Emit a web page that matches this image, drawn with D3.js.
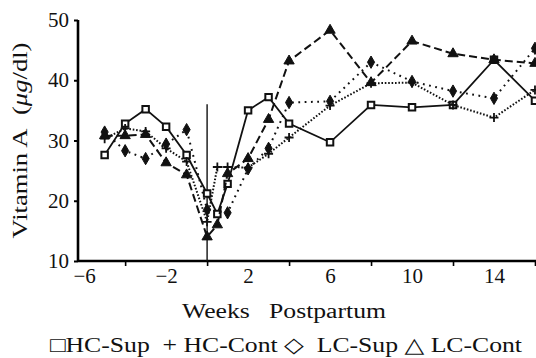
<!DOCTYPE html>
<html>
<head>
<meta charset="utf-8">
<script src="https://cdn.jsdelivr.net/npm/d3@7"></script>
<style>
  html, body { margin: 0; padding: 0; background: #fff; }
  svg { display: block; }
  text { font-family: 'Liberation Serif', 'DejaVu Serif', serif; fill: #111; }
</style>
</head>
<body>
<div id="chart"></div>
<script>
(() => {
  // weeks relative to partum, values in µg/dl
  const weeks = [-5, -4, -3, -2, -1, 0, 0.5, 1, 2, 3, 4, 6, 8, 10, 12, 14, 16];
  const hcSup = [27.6, 32.8, 35.2, 32.3, 27.6, 21.2, 17.8, 22.8, 35.0, 37.2, 32.8, 29.7, 35.9, 35.5, 35.9, 43.4, 36.6];
  const hcCont = [30.3, 32.0, 31.5, 28.7, 26.5, 16.5, 25.6, 25.6, 25.5, 27.8, 30.5, 35.8, 39.5, 39.6, 35.9, 33.8, 38.4];
  const lcSup = [31.4, 28.3, 27.0, 29.4, 31.8, 18.5, null, 18.0, 25.3, 28.7, 36.3, 36.5, 43.0, 39.8, 38.2, 37.0, 45.3];
  const lcCont = [30.8, 30.8, 31.0, 26.3, 24.3, 14.0, 16.0, 24.5, 27.0, 33.5, 43.2, 48.3, 39.6, 46.5, 44.4, 43.4, 42.8];

  const yTicks = [10, 20, 30, 40, 50];
  const xMarkTicks = [-4, 0, 4, 8, 12, 16];
  const xLabelTicks = [-6, -2, 2, 6, 10, 14];
  const partumLine = { week: 0, top: 36, bottom: 10 };
  const legendText = '\u25A1HC-Sup\u00A0 + HC-Cont \u25C7\u00A0 LC-Sup \u25B3 LC-Cont';

  const width = 536;
  const height = 358;

  const series = [
    { name: 'HC-Sup', values: hcSup, dash: null, marker: 'square' },
    { name: 'HC-Cont', values: hcCont, dash: '1.6 1.8', marker: 'plus' },
    { name: 'LC-Sup', values: lcSup, dash: '1.8 4.5', marker: 'diamond' },
    { name: 'LC-Cont', values: lcCont, dash: '8 4', marker: 'triangle' }
  ];

  const x = d3.scaleLinear().domain([-6.3, 16.05]).range([78, 536]);
  const y = d3.scaleLinear().domain([10, 50]).range([261, 20]);

  const svg = d3.select('#chart').append('svg')
    .attr('width', width)
    .attr('height', height);

  // axes
  svg.append('g')
    .attr('transform', `translate(${x.range()[0]},0)`)
    .call(d3.axisLeft(y).tickValues(yTicks).tickSize(4).tickPadding(5).tickFormat(d3.format('d')))
    .call(g => g.select('.domain').attr('stroke-width', 2.6).attr('d', `M0,${y(50)}V${y(10)}`))
    .call(g => g.selectAll('.tick line').attr('stroke-width', 2))
    .call(g => g.selectAll('.tick text').attr('font-size', 21).attr('font-family', 'Liberation Serif'));

  svg.append('g')
    .attr('transform', `translate(0,${y(10)})`)
    .call(d3.axisBottom(x).tickValues(xMarkTicks).tickSize(5).tickFormat(''))
    .call(g => g.select('.domain').attr('stroke-width', 2.6).attr('d', `M${x.range()[0]},0H${width}`))
    .call(g => g.selectAll('.tick line').attr('stroke-width', 1.6));

  svg.append('g')
    .attr('transform', `translate(0,${y(10)})`)
    .call(d3.axisBottom(x).tickValues(xLabelTicks).tickSize(0).tickPadding(7).tickFormat(d => d < 0 ? '\u2212' + Math.abs(d) : d))
    .call(g => g.select('.domain').remove())
    .call(g => g.selectAll('.tick text').attr('font-size', 21).attr('font-family', 'Liberation Serif'));

  // partum line
  svg.append('line')
    .attr('x1', x(partumLine.week))
    .attr('x2', x(partumLine.week))
    .attr('y1', y(partumLine.top))
    .attr('y2', y(partumLine.bottom))
    .attr('stroke', '#111')
    .attr('stroke-width', 1.4);

  const line = d3.line()
    .defined(d => d.v != null)
    .x(d => x(d.w))
    .y(d => y(d.v));

  const markerPath = {
    square: d3.symbol(d3.symbolSquare, 42)(),
    diamond: d3.symbol(d3.symbolDiamond, 44)(),
    triangle: d3.symbol(d3.symbolTriangle, 46)(),
    plus: 'M-4.5,0H4.5M0,-4.5V4.5'
  };

  series.forEach(s => {
    const pts = weeks.map((w, i) => ({ w, v: s.values[i] })).filter(d => d.v != null);

    svg.append('path')
      .datum(pts)
      .attr('fill', 'none')
      .attr('stroke', '#111')
      .attr('stroke-width', s.marker === 'square' ? 1.8 : 2)
      .attr('stroke-dasharray', s.dash)
      .attr('d', line);

    svg.append('g')
      .selectAll('path')
      .data(pts)
      .join('path')
      .attr('transform', d => `translate(${x(d.w)},${y(d.v)})`)
      .attr('d', markerPath[s.marker])
      .attr('fill', s.marker === 'square' ? '#fff' : (s.marker === 'plus' ? 'none' : '#111'))
      .attr('stroke', '#111')
      .attr('stroke-width', s.marker === 'square' ? 2 : (s.marker === 'plus' ? 1.8 : 1));
  });

  // titles
  const yTitle = svg.append('text')
    .attr('transform', `translate(27,${(y(10) + y(50)) / 2}) rotate(-90)`)
    .attr('text-anchor', 'middle')
    .attr('font-size', 21)
    .attr('textLength', 196)
    .attr('lengthAdjust', 'spacingAndGlyphs');
  yTitle.append('tspan').text('Vitamin A\u00A0 (');
  yTitle.append('tspan').attr('font-style', 'italic').text('\u03BCg');
  yTitle.append('tspan').text('/dl)');

  svg.append('text')
    .attr('x', 284)
    .attr('y', 318)
    .attr('text-anchor', 'middle')
    .attr('font-size', 20)
    .attr('textLength', 204)
    .attr('lengthAdjust', 'spacingAndGlyphs')
    .text('Weeks\u00A0\u00A0 Postpartum');

  svg.append('text')
    .attr('x', 50)
    .attr('y', 352)
    .attr('font-size', 21)
    .attr('textLength', 472)
    .attr('lengthAdjust', 'spacingAndGlyphs')
    .text(legendText);
})();
</script>
</body>
</html>
